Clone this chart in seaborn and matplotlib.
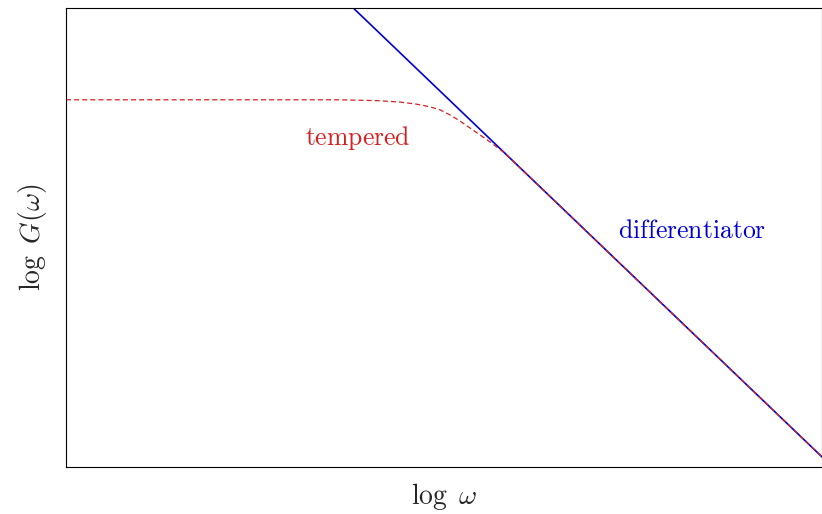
import pandas as pd
import matplotlib.pyplot as plt
import seaborn as sns

# values (arbitrary log units, 0..10 on both axes)
log_w_diff = [3.80, 10.0]
log_g_diff = [10.0, 0.22]

log_w_temp = [0.0, 3.62, 3.89, 4.15, 4.42, 4.62, 4.81, 4.95, 5.08, 5.21,
              5.34, 5.48, 5.61, 5.78, 5.94, 10.0]
log_g_temp = [8.00, 8.00, 7.99, 7.98, 7.95, 7.91, 7.85, 7.78, 7.67, 7.54,
              7.39, 7.23, 7.08, 6.87, 6.62, 0.22]

sns.set_style('white')
plt.rcParams['mathtext.fontset'] = 'cm'
plt.rcParams['font.family'] = ['DejaVu Serif']

df_diff = pd.DataFrame({'x': log_w_diff, 'y': log_g_diff})
df_temp = pd.DataFrame({'x': log_w_temp, 'y': log_g_temp})

fig = plt.figure(figsize=(8.22, 5.14), dpi=100)
ax = fig.add_axes([66 / 822, 47 / 514, 756 / 822, 459 / 514])

sns.lineplot(x='x', y='y', data=df_diff, ax=ax, color='#0000d0',
             linewidth=1.2, sort=False)
sns.lineplot(x='x', y='y', data=df_temp, ax=ax, color='#d42020',
             linestyle=(0, (4, 2.5)), linewidth=0.9, sort=False)

ax.text(3.86, 7.16, r'$\mathrm{tempered}$', color='#d42020', fontsize=18.5,
        ha='center', va='center')
ax.text(8.28, 5.16, r'$\mathrm{differentiator}$', color='#0000d0', fontsize=18.5,
        ha='center', va='center')

ax.set_xlim(0, 10)
ax.set_ylim(0, 10)
ax.set_xticks([])
ax.set_yticks([])
ax.set_xlabel(r'$\log\ \omega$', fontsize=20, labelpad=10)
ax.set_ylabel(r'$\log\ G(\omega)$', fontsize=20, labelpad=12)
for s in ax.spines.values():
    s.set_color('black')
    s.set_linewidth(0.8)

plt.savefig('out.png', dpi=100)
